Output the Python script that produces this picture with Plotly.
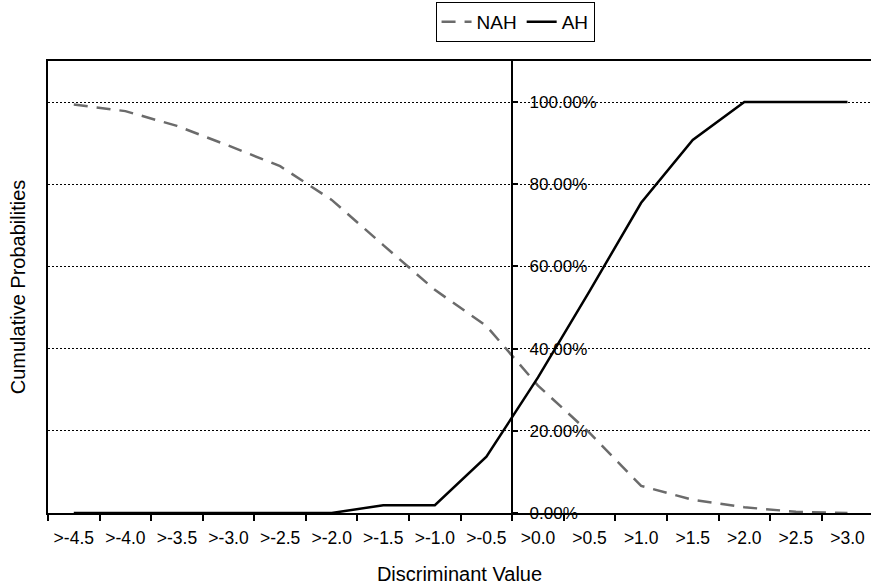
import plotly.graph_objects as go

categories = [">-4.5", ">-4.0", ">-3.5", ">-3.0", ">-2.5", ">-2.0", ">-1.5", ">-1.0",
              ">-0.5", ">0.0", ">0.5", ">1.0", ">1.5", ">2.0", ">2.5", ">3.0"]
nah = [0.994, 0.978, 0.942, 0.894, 0.844, 0.762, 0.652, 0.543,
       0.455, 0.31, 0.195, 0.066, 0.032, 0.014, 0.003, 0.0]
ah = [0.0, 0.0, 0.0, 0.0, 0.0, 0.0, 0.019, 0.019,
      0.137, 0.33, 0.54, 0.755, 0.908, 1.0, 1.0, 1.0]
y_ticks = [0.0, 0.2, 0.4, 0.6, 0.8, 1.0]

FONT = "Liberation Sans, Arial, sans-serif"

xr = [-0.5, 15.456]
yr = [0, 1.1]
ypos = (8.5 - xr[0]) / (xr[1] - xr[0])

fig = go.Figure()
fig.add_trace(go.Scatter(x=categories, y=nah, name="NAH", mode="lines", yaxis="y",
                         line=dict(color="#6b6b6b", width=2.5, dash="14px,9px")))
fig.add_trace(go.Scatter(x=categories, y=ah, name="AH", mode="lines", yaxis="y2",
                         line=dict(color="black", width=2.5)))

fig.update_layout(
    width=871, height=585,
    margin=dict(l=48, r=0, t=61, b=72, autoexpand=False),
    paper_bgcolor="white", plot_bgcolor="white",
    font=dict(family=FONT, color="black"),
    showlegend=True,
    legend=dict(orientation="h", x=0.5675, xanchor="center", y=1.1305, yanchor="top",
                bordercolor="black", borderwidth=1, font=dict(size=19, family=FONT, color="black"),
                itemwidth=30, bgcolor="white"),
    xaxis=dict(type="category", range=xr, tickson="boundaries", ticks="outside",
               ticklen=6, tickwidth=1.5, tickcolor="black", automargin=False,
               showline=True, linewidth=2, linecolor="black", mirror=True,
               showgrid=False, tickfont=dict(size=17.5, family=FONT, color="black"),
               ticklabelstandoff=8,
               title=dict(text="Discriminant Value", font=dict(size=20, family=FONT, color="black"), standoff=20)),
    yaxis=dict(range=yr, tickvals=y_ticks, side="left", anchor="x", automargin=False,
               showticklabels=False, ticks="",
               showline=True, linewidth=2, linecolor="black",
               showgrid=True, gridcolor="black", gridwidth=1, griddash="2px,2px",
               zeroline=False,
               title=dict(text="Cumulative Probabilities", font=dict(size=20, family=FONT, color="black"), standoff=15)),
    yaxis2=dict(range=yr, tickvals=y_ticks, tickformat=".2%", overlaying="y",
                anchor="free", position=ypos, side="right", automargin=False,
                ticks="outside", ticklen=5, tickcolor="black", tickwidth=1.5,
                ticklabelstandoff=8,
                showline=True, linewidth=2, linecolor="black",
                showgrid=False, zeroline=False,
                tickfont=dict(size=17, family=FONT, color="black")),
)

fig.write_html("out.html", config={"displayModeBar": False},
               post_script="document.body.style.margin='0px';")
